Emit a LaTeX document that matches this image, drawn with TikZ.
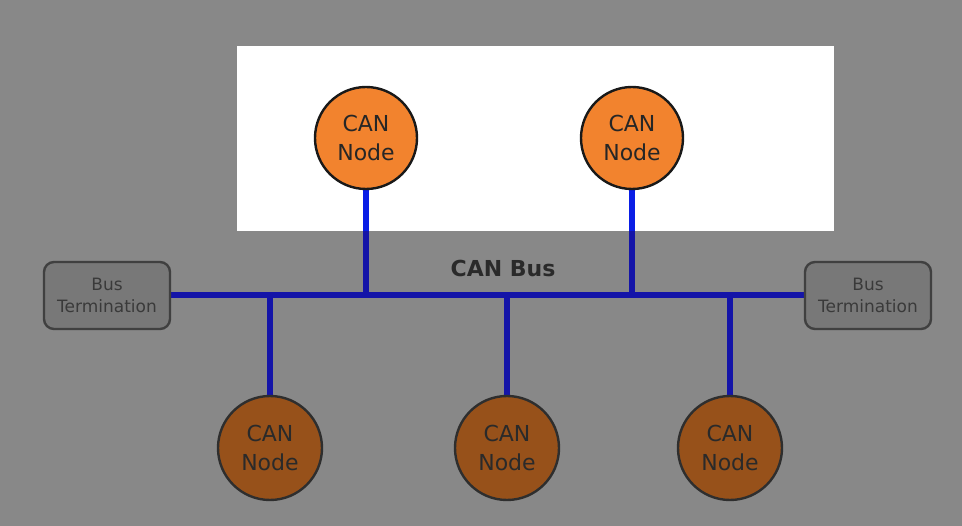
\documentclass[tikz,border=0pt]{standalone}
\usepackage{fontspec}
\setmainfont{DejaVu Sans}
\definecolor{bgGray}{HTML}{888888}
\definecolor{dimBlue}{HTML}{1414A8}
\definecolor{brightBlue}{HTML}{0A1EE6}
\definecolor{dimOrange}{HTML}{97511A}
\definecolor{brightOrange}{HTML}{F2832E}
\definecolor{termFill}{HTML}{787878}
\definecolor{dimText}{HTML}{2A2A2A}
\definecolor{termText}{HTML}{3A3A3A}
\pgfdeclarelayer{backdrop}
\pgfdeclarelayer{wires}
\pgfsetlayers{backdrop,wires,main}
\begin{document}
\begin{tikzpicture}[x=1pt,y=-1pt,
  canbright/.style={circle,draw=black!90,line width=2.4pt,fill=brightOrange,minimum size=102pt,inner sep=0pt,
    align=center,font=\fontsize{22}{29}\selectfont,text=black!85},
  candim/.style={circle,draw=black!82,line width=2.4pt,fill=dimOrange,minimum size=104pt,inner sep=0pt,
    align=center,font=\fontsize{22}{29}\selectfont,text=dimText},
  termbox/.style={rectangle,rounded corners=10pt,draw=black!75,line width=2.4pt,fill=termFill,
    minimum width=126pt,minimum height=67pt,inner sep=0pt,align=center,
    font=\fontsize{17}{22}\selectfont,text=termText},
  busline/.style={line width=6pt,dimBlue},
  buslinebright/.style={line width=6pt,brightBlue}]
\begin{pgfonlayer}{backdrop}
\fill[bgGray] (0,0) rectangle (962,526);
\fill[white] (237,46) rectangle (834,231);
\end{pgfonlayer}
\useasboundingbox (0,0) rectangle (962,526);
% bus taps
\coordinate (tapA) at (366,294);
\coordinate (tapB) at (632,294);
\coordinate (tapC) at (270,294);
\coordinate (tapD) at (507,294);
\coordinate (tapE) at (730,294);
% terminations
\node[termbox] (termL) at (107,295.5) {Bus\\Termination};
\node[termbox] (termR) at (868,295.5) {Bus\\Termination};
% nodes
\node[canbright] (nodeA) at (366,138) {CAN\\Node};
\node[canbright] (nodeB) at (632,138) {CAN\\Node};
\node[candim] (nodeC) at (270,448) {CAN\\Node};
\node[candim] (nodeD) at (507,448) {CAN\\Node};
\node[candim] (nodeE) at (730,448) {CAN\\Node};
\node[font=\fontsize{22}{26}\selectfont\bfseries,text=dimText] (busLabel) at (503,268) {CAN Bus};
% connectors
\begin{pgfonlayer}{wires}
\draw[busline] (termL.east) -- (termR.west);
\draw[busline] (nodeA.south) -- (tapA);
\draw[busline] (nodeB.south) -- (tapB);
\draw[busline] (tapC) -- (nodeC.north);
\draw[busline] (tapD) -- (nodeD.north);
\draw[busline] (tapE) -- (nodeE.north);
\begin{scope}
\clip (237,46) rectangle (834,231);
\draw[buslinebright] (nodeA.south) -- (tapA);
\draw[buslinebright] (nodeB.south) -- (tapB);
\end{scope}
\end{pgfonlayer}
\end{tikzpicture}
\end{document}
